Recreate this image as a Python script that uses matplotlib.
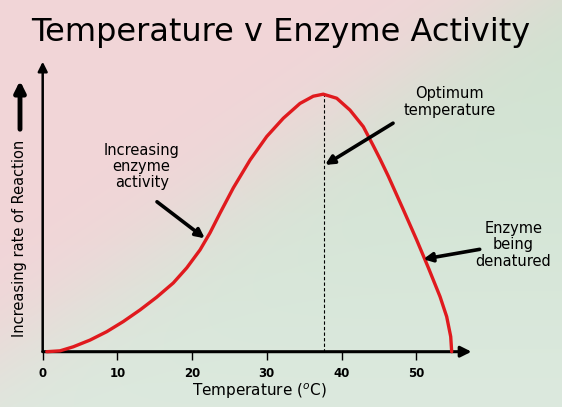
import numpy as np
import matplotlib.pyplot as plt

# values
temp = [0.54, 2.32, 4.10, 6.33, 8.57, 10.79, 13.03, 15.26, 17.48, 19.28, 21.06,
        22.40, 23.74, 25.52, 27.76, 29.99, 32.21, 34.44, 36.22, 37.56, 39.36,
        41.14, 42.92, 44.26, 45.15, 46.27, 48.27, 50.07, 51.62, 53.19, 54.08,
        54.62, 54.75]
rate = [0.0, 0.3, 1.7, 4.0, 6.9, 10.4, 14.4, 18.8, 23.7, 28.9, 35.1,
        41.0, 47.8, 56.5, 66.1, 74.2, 80.5, 85.6, 88.1, 88.8, 87.4,
        83.3, 77.6, 71.0, 66.5, 60.5, 49.0, 38.5, 29.0, 19.0, 12.1,
        5.2, 0.0]
xticks = [0, 10, 20, 30, 40, 50]
optimum = 37.7

W, H = 562, 407
fig = plt.figure(figsize=(W / 100, H / 100), dpi=100)

# background: pink top-left fading to green bottom-right
bg = fig.add_axes([0, 0, 1, 1], zorder=0)
xx, yy = np.meshgrid(np.arange(W), np.arange(H))
d = ((xx - 50) * 300 + (yy - 320) * 440) / 532.6
t = 1 / (1 + np.exp(-d / 28))
pink = np.array([242, 213, 216]) / 255
green_top = np.array([206, 226, 207]) / 255
green_bot = np.array([220, 233, 222]) / 255
g = yy[..., None] / H
green = green_top * (1 - g) + green_bot * g
img = pink * (1 - t[..., None]) + green * t[..., None]
bg.imshow(img, aspect='auto', extent=[0, W, H, 0])
bg.axis('off')

ax = fig.add_axes([42.7 / W, (H - 351.7) / H, 58 * 7.47 / W, 290 / H], zorder=1)
ax.patch.set_alpha(0)
ax.set_xlim(0, 58)
ax.set_ylim(0, 100)
for s in ax.spines.values():
    s.set_visible(False)

# axes with arrow heads
ax.annotate('', xy=(57.4, 0), xytext=(0, 0),
            arrowprops=dict(arrowstyle='-|>', color='black', lw=2.2, mutation_scale=16,
                            shrinkA=0, shrinkB=0), annotation_clip=False)
ax.annotate('', xy=(0, 100), xytext=(0, 0),
            arrowprops=dict(arrowstyle='-|>', color='black', lw=1.8, mutation_scale=14,
                            shrinkA=0, shrinkB=0), annotation_clip=False)

ax.set_xticks(xticks)
ax.set_xticklabels([str(v) for v in xticks], fontweight='bold', fontsize=8.5)
ax.tick_params(axis='x', direction='out', length=6, width=1, pad=5)
ax.set_yticks([])

ax.plot(temp, rate, color='#e01a1e', lw=2.4, clip_on=False, zorder=3,
        solid_capstyle='round', solid_joinstyle='round')
ax.plot([optimum, optimum], [0, 88.9], color='black', lw=0.8, ls=(0, (3, 2)), zorder=2)

arrow = dict(arrowstyle='-|>', color='black', lw=2.6, mutation_scale=13,
             shrinkA=0, shrinkB=0)
ax.text(13.25, 63.8, "Increasing\nenzyme\nactivity", ha='center', va='center',
        fontsize=10.5, linespacing=1.1)
ax.annotate('', xy=(21.7, 39.1), xytext=(15.3, 51.7), arrowprops=arrow)
ax.text(54.5, 86.1, "Optimum\ntemperature", ha='center', va='center',
        fontsize=10.5, linespacing=1.1)
ax.annotate('', xy=(37.8, 64.4), xytext=(46.9, 78.8), arrowprops=arrow)
ax.text(63.0, 36.8, "Enzyme\nbeing\ndenatured", ha='center', va='center',
        fontsize=10.5, linespacing=1.1)
ax.annotate('', xy=(50.95, 31.9), xytext=(58.5, 35.3), arrowprops=arrow,
            annotation_clip=False)

ax.set_xlabel("Temperature ($^{o}$C)", fontsize=11, labelpad=1)

fig.text(281 / W, 1 - 33 / H, "Temperature v Enzyme Activity", ha='center', va='center',
         fontsize=23)
fig.text(20 / W, 1 - 238 / H, "Increasing rate of Reaction", rotation=90,
         ha='center', va='center', fontsize=10.5)
fig.patches.append(plt.matplotlib.patches.FancyArrowPatch(
    (20 / W, 1 - 132 / H), (20 / W, 1 - 78 / H), transform=fig.transFigure,
    arrowstyle='-|>', color='black', lw=3.5, mutation_scale=16))

fig.savefig('out.png', dpi=100)
